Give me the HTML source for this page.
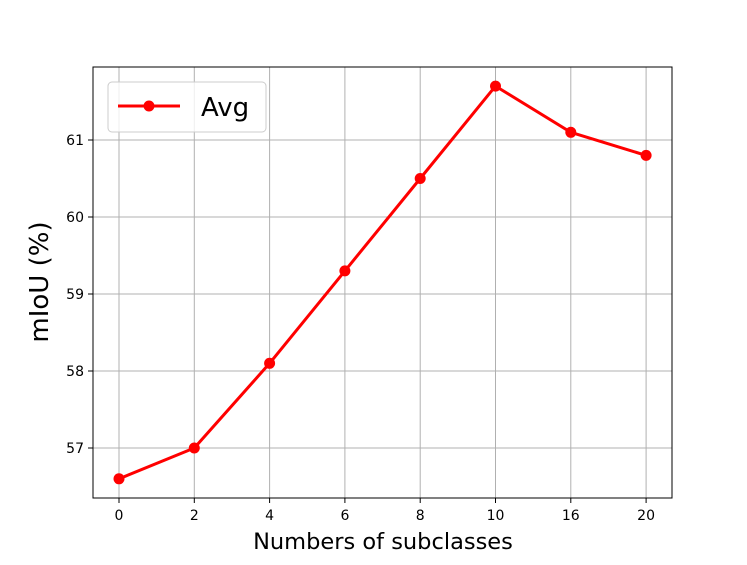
<!DOCTYPE html>
<html><head><meta charset="utf-8"><style>
body{margin:0;background:#fff;}
svg text{font-family:"DejaVu Sans","Liberation Sans",sans-serif;fill:#000;}
</style></head><body>
<svg id="chart" width="747" height="560" xmlns="http://www.w3.org/2000/svg">
<g id="grid"></g>
<g id="ticks"></g>
<g id="series"></g>
<rect x="93" y="67" width="579" height="431" fill="none" stroke="#000" stroke-width="1"/>
<text x="383" y="549" font-size="22.5" text-anchor="middle">Numbers of subclasses</text>
<text transform="translate(48,282) rotate(-90)" font-size="26" text-anchor="middle">mIoU (%)</text>
<g>
<rect x="108" y="82" width="158" height="50" rx="4" fill="#fff" fill-opacity="0.8" stroke="#ccc"/>
<line x1="118" y1="106" x2="180" y2="106" stroke="#f00" stroke-width="3"/>
<circle cx="149" cy="106" r="5.5" fill="#f00"/>
<text x="201" y="116" font-size="26">Avg</text>
</g>
</svg>
<script>
const categories=["0","2","4","6","8","10","16","20"];
const values=[56.6,57.0,58.1,59.3,60.5,61.7,61.1,60.8];
const yTicks=[57,58,59,60,61];
const NS="http://www.w3.org/2000/svg";
const x0=119,dx=75.3;
function xPos(i){return x0+i*dx;}
function yPos(v){return 448-(v-57)*77;}
function mk(tag,attrs,parent){const e=document.createElementNS(NS,tag);for(const k in attrs)e.setAttribute(k,attrs[k]);document.getElementById(parent).appendChild(e);return e;}
categories.forEach((c,i)=>{
 const x=xPos(i);
 let g=mk('line',{x1:x,y1:67,x2:x,y2:498,stroke:'#b0b0b0','stroke-width':1},'grid');
 
 
 let t=mk('line',{x1:x,y1:498,x2:x,y2:503,stroke:'#000'},'ticks');
 
 
 let l=mk('text',{x:x,y:520,'font-size':14,'text-anchor':'middle'},'ticks');
 l.textContent=c;
 
 
});
yTicks.forEach(v=>{
 const y=yPos(v);
 let g=mk('line',{x1:93,y1:y,x2:672,y2:y,stroke:'#b0b0b0','stroke-width':1},'grid');
 
 
 let t=mk('line',{x1:88,y1:y,x2:93,y2:y,stroke:'#000'},'ticks');
 
 
 let l=mk('text',{x:84,y:y+5,'font-size':14,'text-anchor':'end'},'ticks');
 l.textContent=v;
 
 
});
const pts=values.map((v,i)=>xPos(i)+','+yPos(v)).join(' ');
let pl=mk('polyline',{points:pts,fill:'none',stroke:'#f00','stroke-width':3,'stroke-linejoin':'round'},'series');


values.forEach((v,i)=>{
 let c=mk('circle',{cx:xPos(i),cy:yPos(v),r:5.5,fill:'#f00'},'series');
 
 
});
</script>
</body></html>
